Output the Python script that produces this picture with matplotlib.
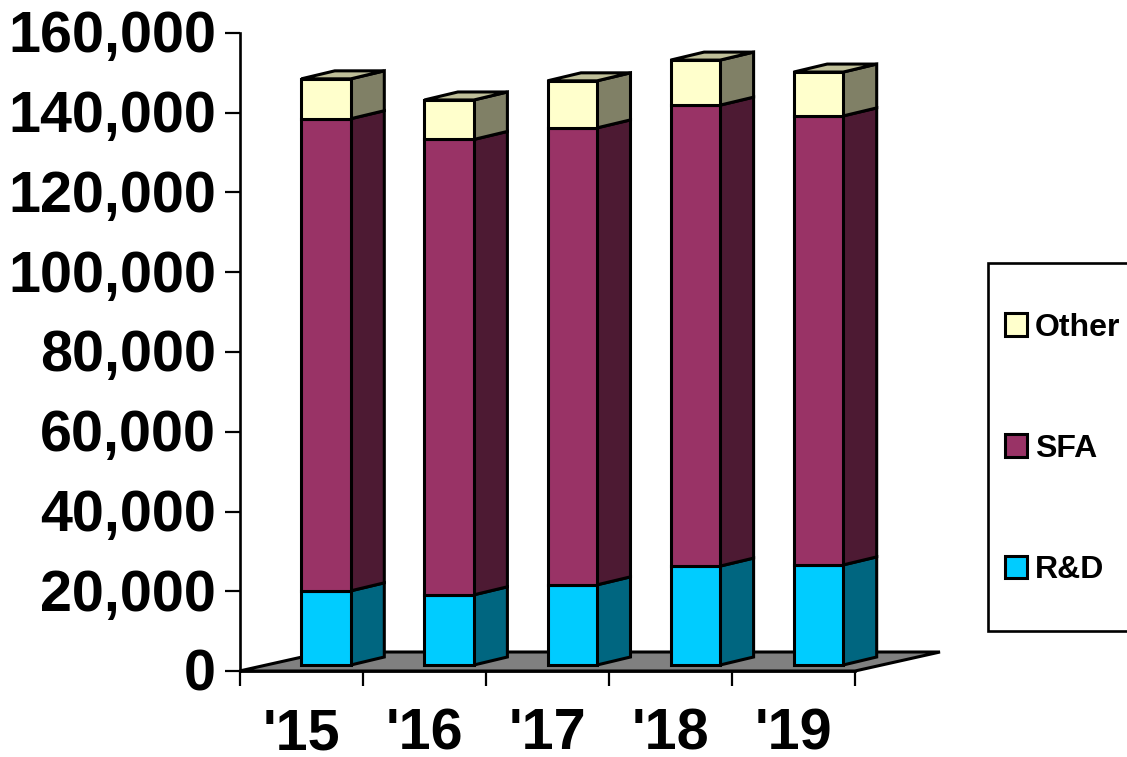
#!/usr/bin/env python
"""Stacked pseudo-3D column chart of R&D, SFA and Other spending, 2015-2019."""

import matplotlib
matplotlib.use("Agg")
import matplotlib.pyplot as plt
from matplotlib.patches import Patch, Polygon, Rectangle
from matplotlib.transforms import ScaledTranslation

plt.rcParams["font.family"] = ["Liberation Sans", "DejaVu Sans"]
plt.rcParams["font.weight"] = "bold"

years = ["'15", "'16", "'17", "'18", "'19"]
rnd = [18600, 17600, 20100, 24800, 25100]
sfa = [118400, 114200, 114600, 115600, 112600]
other = [10000, 9900, 11800, 11300, 11000]
y_ticks = [0, 20000, 40000, 60000, 80000, 100000, 120000, 140000, 160000]

# series: name, values, front colour, side colour
series = [
    ("R&D", rnd, "#00CCFF", "#006680"),
    ("SFA", sfa, "#993366", "#4D1A33"),
    ("Other", other, "#FFFFCC", "#808066"),
]
TOP_COLOUR = "#BFBF99"

W, H = 1127, 757
PX_X = 1 / 123.1      # one pixel in category units
PX_Y = 160000 / 638   # one pixel in value units
BAR_W = 49.5 * PX_X
SHIFT_X, SHIFT_Y = 25 * PX_X, 6 * PX_Y      # front face offset from the floor edge
DEPTH_X, DEPTH_Y = 33.5 * PX_X, 8 * PX_Y    # bar depth
FLOOR_X, FLOOR_Y = 85 * PX_X, 19 * PX_Y
LW = 2.2


def box_face(ax, pts, colour, z):
    ax.add_patch(Polygon(pts, closed=True, facecolor=colour, edgecolor="black",
                         linewidth=LW, joinstyle="miter", clip_on=False, zorder=z))


def main():
    fig = plt.figure(figsize=(W / 100, H / 100), dpi=100)
    ax = fig.add_axes([239.5 / W, 86 / H, 615.5 / W, 638 / H])
    ax.set_xlim(0, 5)
    ax.set_ylim(0, 160000)

    # floor
    box_face(ax, [(0, 0), (5, 0), (5 + FLOOR_X, FLOOR_Y), (FLOOR_X, FLOOR_Y)], "#808080", 1)

    # columns, bottom segment first
    for i in range(len(years)):
        x0 = i + 0.5 + SHIFT_X - BAR_W / 2
        x1 = x0 + BAR_W
        base = 0
        for _, values, front, side in series:
            y0 = SHIFT_Y + base
            y1 = y0 + values[i]
            box_face(ax, [(x1, y0), (x1 + DEPTH_X, y0 + DEPTH_Y),
                          (x1 + DEPTH_X, y1 + DEPTH_Y), (x1, y1)], side, 2)
            box_face(ax, [(x0, y0), (x1, y0), (x1, y1), (x0, y1)], front, 3)
            base += values[i]
        top = SHIFT_Y + base
        box_face(ax, [(x0, top), (x1, top), (x1 + DEPTH_X, top + DEPTH_Y),
                      (x0 + DEPTH_X, top + DEPTH_Y)], TOP_COLOUR, 2)

    for name in ("top", "right"):
        ax.spines[name].set_visible(False)
    for name in ("left", "bottom"):
        ax.spines[name].set_linewidth(1.9)
        ax.spines[name].set_zorder(4)

    ax.set_yticks(y_ticks)
    ax.set_yticklabels([f"{v:,}" for v in y_ticks], fontsize=41.4, fontweight="bold")
    ax.tick_params(axis="y", length=11, width=1.6, pad=6)
    # the comma's descent pulls centred labels up, nudge them back onto the ticks
    nudge = ScaledTranslation(0, -4.5 / 100, fig.dpi_scale_trans)
    for label in ax.get_yticklabels():
        label.set_verticalalignment("center")
        label.set_transform(label.get_transform() + nudge)

    ax.set_xticks(range(6))
    ax.set_xticklabels([])
    ax.set_xticks([i + 0.5 for i in range(5)], minor=True)
    ax.set_xticklabels(years, minor=True, fontsize=41.4, fontweight="bold")
    ax.tick_params(axis="x", which="major", length=11, width=1.6)
    ax.tick_params(axis="x", which="minor", length=0, pad=26)

    # legend frame runs off the right edge of the figure
    fig.add_artist(Rectangle((988 / W, (H - 631) / H), 200 / W, 368 / H,
                             transform=fig.transFigure, facecolor="white",
                             edgecolor="black", linewidth=1.9, zorder=1))
    handles = [Patch(facecolor=s[2], edgecolor="black", linewidth=LW, label=s[0])
               for s in reversed(series)]
    fig.legend(handles=handles, loc="upper left", frameon=False,
               bbox_to_anchor=(1005 / W, (H - 313) / H), borderaxespad=0,
               fontsize=23, borderpad=0, labelspacing=2.85, handlelength=0.69,
               handleheight=0.72, handletextpad=0.25)

    fig.savefig("out.png", dpi=100)


if __name__ == "__main__":
    main()
